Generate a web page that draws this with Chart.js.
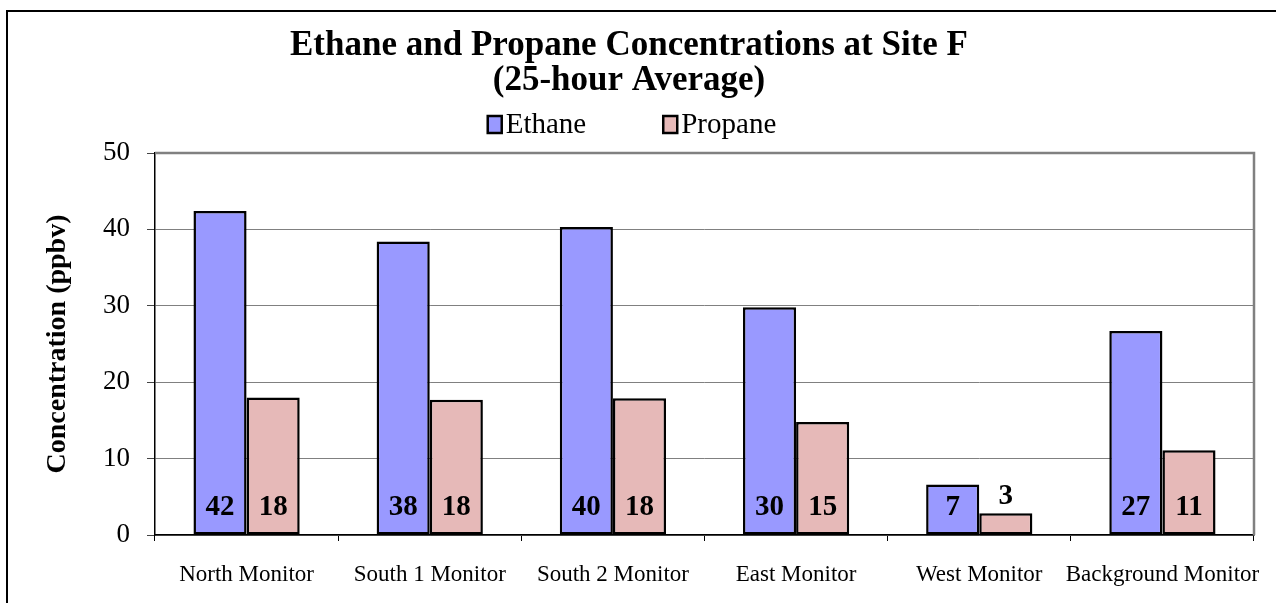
<!DOCTYPE html>
<html><head><meta charset="utf-8">
<script src="https://cdn.jsdelivr.net/npm/chart.js@4.4.0/dist/chart.umd.min.js"></script>
<style>html,body{margin:0;padding:0;background:#fff;overflow:hidden}#wrap{width:1276px;height:603px;position:relative}</style>
</head><body><div id="wrap"><canvas id="c" width="1276" height="603"></canvas></div>
<script>
const categories = ['North Monitor', 'South 1 Monitor', 'South 2 Monitor', 'East Monitor', 'West Monitor', 'Background Monitor'];
const ethane = [42.4, 38.4, 40.3, 29.8, 6.6, 26.7];
const propane = [18.0, 17.7, 17.9, 14.8, 2.85, 11.1];
const seriesNames = ['Ethane', 'Propane'];
const yTicks = [0, 10, 20, 30, 40, 50];
const titleLines = ['Ethane and Propane Concentrations at Site F', '(25-hour Average)'];
const yTitle = 'Concentration (ppbv)';

const SERIF = '"Liberation Serif","Times New Roman",Times,serif';
const colors = ['#9999FF', '#E6B9B8'];

const framePlugin = {
  id: 'frame',
  beforeDraw(chart) {
    const ctx = chart.ctx;
    ctx.save();
    ctx.fillStyle = '#fff';
    ctx.fillRect(0, 0, chart.width, chart.height);
    ctx.strokeStyle = '#000';
    ctx.lineWidth = 2;
    ctx.strokeRect(7, 11, 1300, 640);
    ctx.restore();
  },
  afterDraw(chart) {
    const ctx = chart.ctx;
    const a = chart.chartArea;
    ctx.save();
    // plot area top/right border
    ctx.strokeStyle = '#808080';
    ctx.lineWidth = 2.5;
    ctx.beginPath();
    ctx.moveTo(a.left, a.top);
    ctx.lineTo(a.right, a.top);
    ctx.lineTo(a.right, a.bottom);
    ctx.stroke();
    // legend (custom spacing)
    ctx.font = '29px ' + SERIF;
    ctx.textBaseline = 'middle';
    ctx.textAlign = 'left';
    const box = 14, gap = 4, bigGap = 77;
    const w0 = ctx.measureText(seriesNames[0]).width;
    const w1 = ctx.measureText(seriesNames[1]).width;
    const total = box + gap + w0 + bigGap + box + gap + w1;
    let x = 632 - total / 2;
    const cy = 124;
    [0, 1].forEach(i => {
      ctx.fillStyle = colors[i];
      ctx.fillRect(x, cy - 8, box, 17);
      ctx.strokeStyle = '#000';
      ctx.lineWidth = 2.5;
      ctx.strokeRect(x, cy - 8, box, 17);
      ctx.fillStyle = '#000';
      ctx.fillText(seriesNames[i], x + box + gap, cy + 1);
      x += box + gap + (i === 0 ? w0 : w1) + bigGap;
    });
    ctx.restore();
  },
  afterDatasetsDraw(chart) {
    const ctx = chart.ctx;
    ctx.save();
    ctx.font = 'bold 29px ' + SERIF;
    ctx.fillStyle = '#000';
    ctx.textAlign = 'center';
    ctx.textBaseline = 'middle';
    chart.data.datasets.forEach((ds, i) => {
      const meta = chart.getDatasetMeta(i);
      meta.data.forEach((bar, j) => {
        const v = ds.data[j];
        const h = bar.base - bar.y;
        const txt = String(Math.round(v));
        const y = h >= 44 ? bar.base - 27 : bar.y - 17;
        ctx.fillText(txt, bar.x, y);
      });
    });
    ctx.restore();
  }
};

new Chart(document.getElementById('c'), {
  type: 'bar',
  data: {
    labels: categories,
    datasets: [
      { label: seriesNames[0], data: ethane, backgroundColor: colors[0], borderColor: '#000', borderWidth: 2.5, borderSkipped: false },
      { label: seriesNames[1], data: propane, backgroundColor: colors[1], borderColor: '#000', borderWidth: 2.5, borderSkipped: false }
    ]
  },
  options: {
    responsive: false,
    animation: false,
    devicePixelRatio: 1,
    layout: { padding: { left: 4, right: 22, top: 0, bottom: 0 } },
    datasets: { bar: { categoryPercentage: 0.58, barPercentage: 1.0 } },
    plugins: {
      legend: { display: false },
      tooltip: { enabled: false },
      title: {
        display: true,
        text: titleLines,
        color: '#000',
        font: { family: SERIF, size: 35, weight: 'bold', lineHeight: 1.0 },
        padding: { top: 28, bottom: 55 }
      }
    },
    scales: {
      x: {
        afterFit(s) { s.height = 68; s.paddingLeft = 0; s.paddingRight = 0; },
        grid: { display: true, drawOnChartArea: false, drawTicks: true, tickLength: 6, color: '#000', offset: true },
        border: { display: true, color: '#000', width: 1.5 },
        ticks: { color: '#000', font: { family: SERIF, size: 23 }, padding: 20, maxRotation: 0, minRotation: 0, autoSkip: false }
      },
      y: {
        min: yTicks[0], max: yTicks[yTicks.length - 1],
        afterFit(s) { s.width = 151; },
        afterBuildTicks(s) { s.ticks = yTicks.map(v => ({ value: v })); },
        grid: { color: '#808080', lineWidth: 1, tickLength: 8, tickColor: '#444' },
        border: { display: true, color: '#000', width: 1.5 },
        ticks: { color: '#000', font: { family: SERIF, size: 27 }, padding: 17 },
        title: { display: true, text: yTitle, color: '#000', font: { family: SERIF, size: 28, weight: 'bold' }, padding: { top: 37, bottom: 0 } }
      }
    }
  },
  plugins: [framePlugin]
});
</script>
</body></html>
